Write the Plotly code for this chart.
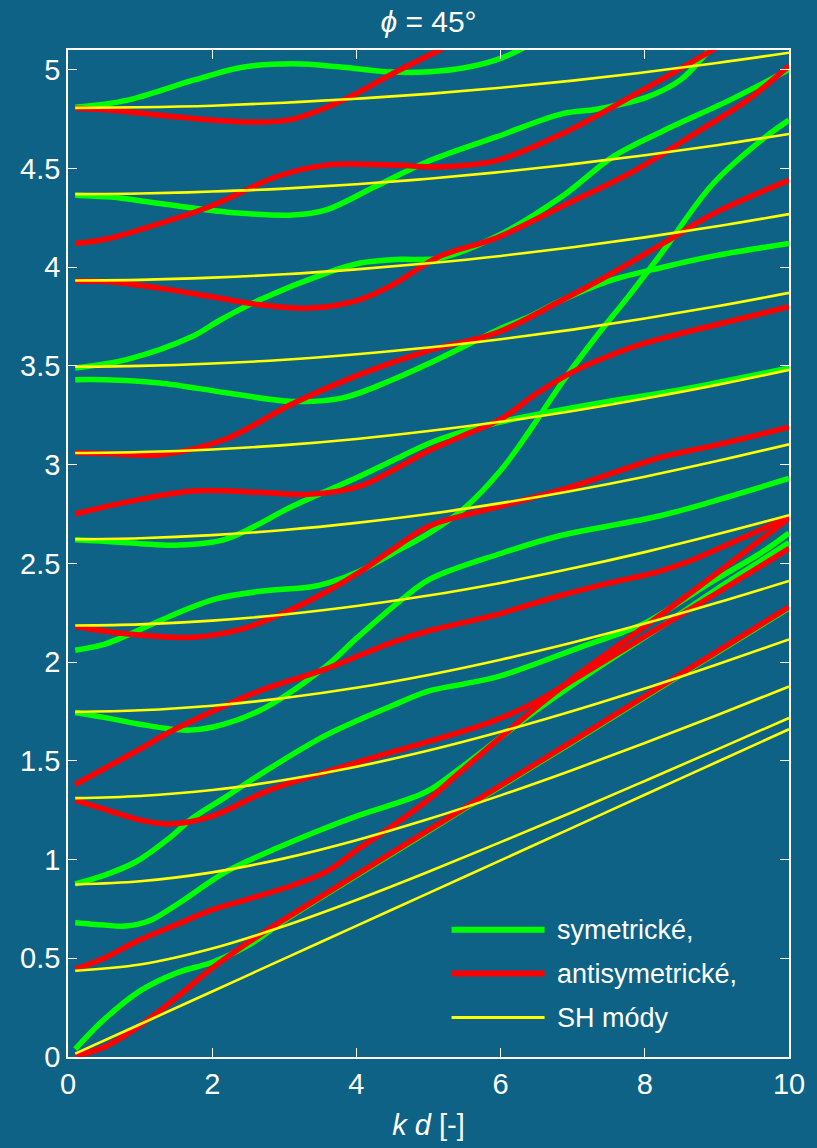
import plotly.graph_objects as go

# ---------------- data ----------------
# SH modes (yellow), sampled at these k d values
KD_SH = [0.1, 1, 2, 3, 4, 5, 6, 7, 8, 9, 10]
SH0 = [0.017, 0.166, 0.332, 0.498, 0.664, 0.830, 0.996, 1.162, 1.328, 1.494, 1.660]
SH1 = [0.437, 0.468, 0.549, 0.663, 0.795, 0.938, 1.088, 1.241, 1.398, 1.557, 1.717]
SH2 = [0.874, 0.890, 0.935, 1.006, 1.098, 1.205, 1.325, 1.454, 1.590, 1.731, 1.876]
SH3 = [1.311, 1.322, 1.352, 1.403, 1.470, 1.552, 1.647, 1.752, 1.866, 1.988, 2.115]
SH4 = [1.748, 1.756, 1.779, 1.818, 1.870, 1.935, 2.012, 2.099, 2.195, 2.300, 2.411]
SH5 = [2.185, 2.191, 2.210, 2.241, 2.284, 2.337, 2.401, 2.475, 2.557, 2.647, 2.744]
SH6 = [2.622, 2.627, 2.643, 2.669, 2.705, 2.750, 2.805, 2.868, 2.939, 3.018, 3.103]
SH7 = [3.059, 3.064, 3.077, 3.099, 3.130, 3.170, 3.217, 3.272, 3.335, 3.404, 3.480]
SH8 = [3.496, 3.500, 3.512, 3.531, 3.559, 3.593, 3.635, 3.684, 3.740, 3.802, 3.870]
SH9 = [3.933, 3.936, 3.947, 3.964, 3.989, 4.020, 4.057, 4.101, 4.151, 4.207, 4.269]
SH10 = [4.370, 4.373, 4.383, 4.398, 4.420, 4.448, 4.482, 4.522, 4.567, 4.618, 4.675]
SH11 = [4.807, 4.810, 4.818, 4.833, 4.853, 4.878, 4.909, 4.945, 4.987, 5.034, 5.086]

# symmetric modes (green)
S0_X = [0.1, 0.5, 1, 1.5, 2, 2.5, 3, 4, 5, 6, 7, 8, 9, 10]
S0_Y = [0.04, 0.19, 0.335, 0.425, 0.48, 0.565, 0.69, 0.918, 1.144, 1.37, 1.595, 1.822, 2.048, 2.274]
S1_X = [0.1, 0.5, 0.8, 1.13, 1.5, 2.2, 2.89, 3.5, 4.04, 4.97, 5.43, 6.4, 7.33, 8.25, 9.0, 9.64, 10]
S1_Y = [0.68, 0.668, 0.663, 0.69, 0.77, 0.94, 1.057, 1.15, 1.225, 1.343, 1.46, 1.73, 1.966, 2.185, 2.37, 2.52, 2.606]
S2_X = [0.1, 0.5, 0.95, 1.41, 1.73, 2.2, 2.66, 3.58, 4.5, 5.02, 5.5, 6.0, 7.1, 7.93, 8.34, 8.9, 9.64, 10]
S2_Y = [0.877, 0.92, 0.99, 1.11, 1.21, 1.32, 1.43, 1.63, 1.78, 1.855, 1.89, 1.93, 2.075, 2.185, 2.27, 2.40, 2.56, 2.654]
S3_X = [0.1, 0.5, 1.0, 1.64, 2.0, 2.66, 3.58, 4.0, 4.64, 5.02, 6.0, 6.82, 8.2, 9.0, 10]
S3_Y = [1.745, 1.72, 1.685, 1.655, 1.67, 1.755, 1.98, 2.12, 2.32, 2.42, 2.55, 2.64, 2.74, 2.82, 2.93]
S4_X = [0.1, 0.5, 0.81, 1.4, 2.05, 2.7, 3.35, 3.6, 4.04, 4.5, 5.02, 5.5, 6.0, 6.4, 6.86, 7.33, 7.79, 8.25, 8.94, 9.64, 10]
S4_Y = [2.06, 2.09, 2.134, 2.23, 2.32, 2.36, 2.38, 2.40, 2.46, 2.55, 2.656, 2.78, 2.97, 3.17, 3.42, 3.65, 3.86, 4.08, 4.42, 4.65, 4.745]
S5_X = [0.1, 0.5, 1.0, 1.5, 2.19, 3.12, 4.04, 4.5, 5.02, 5.5, 6.17, 7.33, 8.5, 10]
S5_Y = [2.62, 2.612, 2.60, 2.592, 2.623, 2.79, 2.94, 3.02, 3.11, 3.17, 3.23, 3.31, 3.38, 3.49]
S6_X = [0.1, 0.5, 1.27, 2.19, 3.12, 3.81, 4.5, 5.02, 5.5, 6.0, 6.4, 6.86, 7.5, 8.25, 9.0, 10]
S6_Y = [3.43, 3.43, 3.414, 3.364, 3.32, 3.338, 3.43, 3.515, 3.60, 3.69, 3.75, 3.835, 3.93, 4.0, 4.06, 4.12]
S7_X = [0.1, 0.81, 1.73, 2.1, 2.66, 3.58, 4.04, 4.6, 5.15, 5.94, 6.86, 7.56, 8.25, 9.17, 10]
S7_Y = [3.49, 3.532, 3.65, 3.73, 3.835, 3.97, 4.02, 4.04, 4.045, 4.155, 4.36, 4.56, 4.69, 4.845, 5.0]
S8_X = [0.1, 0.6, 1.27, 2.19, 3.12, 3.58, 4.27, 5.02, 5.94, 6.86, 7.33, 8.02, 8.5, 8.9, 9.2]
S8_Y = [4.365, 4.355, 4.323, 4.28, 4.264, 4.29, 4.41, 4.54, 4.66, 4.778, 4.80, 4.86, 4.95, 5.1, 5.2]
S9_X = [0.1, 0.81, 1.73, 2.42, 3.12, 3.81, 4.5, 5.02, 5.5, 5.94, 6.26, 6.6]
S9_Y = [4.81, 4.845, 4.946, 5.013, 5.03, 5.013, 4.988, 4.99, 5.01, 5.05, 5.1, 5.17]

# antisymmetric modes (red)
A0_X = [0.1, 0.5, 1, 1.5, 2, 2.5, 3, 4, 5, 6, 7, 8, 9, 10]
A0_Y = [0.005, 0.05, 0.16, 0.30, 0.45, 0.58, 0.697, 0.923, 1.149, 1.375, 1.60, 1.827, 2.053, 2.279]
A1_X = [0.1, 0.5, 0.95, 1.5, 2.0, 2.5, 3.12, 3.59, 4.04, 4.5, 5.02, 5.43, 6.36, 6.82, 7.1, 8.0, 9.0, 10]
A1_Y = [0.445, 0.5, 0.585, 0.67, 0.745, 0.80, 0.87, 0.94, 1.057, 1.17, 1.31, 1.44, 1.73, 1.865, 1.945, 2.18, 2.45, 2.73]
A2_X = [0.1, 0.5, 1.0, 1.41, 2.0, 2.75, 3.58, 4.5, 5.02, 5.89, 6.5, 7.1, 8.0, 9.0, 10]
A2_Y = [1.30, 1.255, 1.20, 1.18, 1.22, 1.345, 1.444, 1.545, 1.60, 1.70, 1.80, 1.93, 2.13, 2.35, 2.575]
A3_X = [0.1, 0.5, 1.0, 1.41, 2.0, 2.66, 3.58, 4.5, 5.02, 5.89, 6.82, 7.5, 8.2, 8.71, 9.3, 10]
A3_Y = [1.38, 1.46, 1.56, 1.646, 1.75, 1.855, 1.966, 2.10, 2.16, 2.235, 2.336, 2.40, 2.46, 2.525, 2.62, 2.735]
A4_X = [0.1, 0.81, 1.73, 2.42, 3.12, 3.6, 4.04, 4.5, 5.02, 6.0, 7.0, 8.25, 9.0, 10]
A4_Y = [2.18, 2.143, 2.126, 2.168, 2.27, 2.36, 2.455, 2.57, 2.69, 2.79, 2.89, 3.04, 3.10, 3.19]
A5_X = [0.1, 0.81, 1.73, 2.66, 3.35, 4.04, 4.5, 5.0, 5.5, 6.0, 6.5, 7.0, 7.5, 8.0, 9.0, 10]
A5_Y = [2.75, 2.81, 2.867, 2.86, 2.85, 2.89, 2.97, 3.07, 3.15, 3.23, 3.36, 3.47, 3.55, 3.615, 3.71, 3.80]
A6_X = [0.1, 0.6, 1.27, 2.19, 3.12, 4.04, 5.02, 5.94, 6.86, 7.5, 8.25, 9.0, 10]
A6_Y = [3.06, 3.055, 3.05, 3.13, 3.31, 3.456, 3.58, 3.667, 3.835, 3.96, 4.12, 4.28, 4.44]
A7_X = [0.1, 0.6, 1.27, 2.0, 2.66, 3.35, 4.04, 4.5, 5.15, 5.94, 6.86, 7.79, 8.71, 9.4, 10]
A7_Y = [3.93, 3.925, 3.894, 3.85, 3.81, 3.793, 3.835, 3.91, 4.054, 4.148, 4.31, 4.475, 4.68, 4.84, 5.02]
A8_X = [0.1, 0.5, 1.04, 1.96, 2.89, 3.58, 4.5, 5.15, 5.94, 6.86, 7.79, 8.94, 9.3]
A8_Y = [4.12, 4.14, 4.195, 4.306, 4.458, 4.517, 4.517, 4.508, 4.54, 4.677, 4.86, 5.1, 5.18]
A9_X = [0.1, 0.6, 1.27, 2.0, 2.66, 3.12, 3.81, 4.5, 5.15, 5.5]
A9_Y = [4.805, 4.795, 4.77, 4.745, 4.735, 4.75, 4.845, 4.98, 5.1, 5.17]

X_TICKS = [0, 2, 4, 6, 8, 10]
Y_TICKS = [0, 0.5, 1, 1.5, 2, 2.5, 3, 3.5, 4, 4.5, 5]
Y_TICK_TEXT = ["0", "0.5", "1", "1.5", "2", "2.5", "3", "3.5", "4", "4.5", "5"]
LEGEND_LABELS = ["symetrické,", "antisymetrické,", "SH módy"]

# ---------------- styling ----------------
BG = "#0d6285"
GREEN = "#00ff00"
RED = "#ff0000"
YELLOW = "#ffff00"
FONT = "Liberation Sans, Arial, sans-serif"
FS_TICK = 29
FS_LEG = 27

sym = [(S0_X, S0_Y), (S1_X, S1_Y), (S2_X, S2_Y), (S3_X, S3_Y), (S4_X, S4_Y),
       (S5_X, S5_Y), (S6_X, S6_Y), (S7_X, S7_Y), (S8_X, S8_Y), (S9_X, S9_Y)]
anti = [(A0_X, A0_Y), (A1_X, A1_Y), (A2_X, A2_Y), (A3_X, A3_Y), (A4_X, A4_Y),
        (A5_X, A5_Y), (A6_X, A6_Y), (A7_X, A7_Y), (A8_X, A8_Y), (A9_X, A9_Y)]
sh = [SH0, SH1, SH2, SH3, SH4, SH5, SH6, SH7, SH8, SH9, SH10, SH11]

fig = go.Figure()
for xs, ys in sym:
    fig.add_trace(go.Scatter(x=xs, y=ys, mode="lines", name=LEGEND_LABELS[0],
                             line=dict(color=GREEN, width=5.5, shape="spline"),
                             showlegend=False, hoverinfo="skip"))
for xs, ys in anti:
    fig.add_trace(go.Scatter(x=xs, y=ys, mode="lines", name=LEGEND_LABELS[1],
                             line=dict(color=RED, width=5.5, shape="spline"),
                             showlegend=False, hoverinfo="skip"))
for ys in sh:
    fig.add_trace(go.Scatter(x=KD_SH, y=ys, mode="lines", name=LEGEND_LABELS[2],
                             line=dict(color=YELLOW, width=2.6, shape="spline"),
                             showlegend=False, hoverinfo="skip"))

# legend drawn with long sample lines like the original
leg_rows = [0.1264, 0.0828, 0.0392]
leg_cols = [GREEN, RED, YELLOW]
leg_w = [6, 6, 3]
for yy, c, w, lab in zip(leg_rows, leg_cols, leg_w, LEGEND_LABELS):
    fig.add_shape(type="line", xref="paper", yref="paper", x0=0.532, x1=0.661,
                  y0=yy, y1=yy, line=dict(color=c, width=w))
    fig.add_annotation(xref="paper", yref="paper", x=0.675, y=yy, text=lab,
                       showarrow=False, xanchor="left", yanchor="middle",
                       font=dict(family=FONT, size=FS_LEG, color="white"))

axis_common = dict(showline=True, linecolor="white", linewidth=1.5, mirror="ticks",
                   ticks="inside", ticklen=9, tickwidth=1.3, tickcolor="white",
                   showgrid=False, zeroline=False,
                   tickfont=dict(family=FONT, size=FS_TICK, color="white"))

fig.update_layout(
    width=817, height=1148,
    margin=dict(l=68, r=28, t=50, b=89),
    paper_bgcolor=BG, plot_bgcolor=BG,
    showlegend=False,
    title=dict(text="<i>ϕ</i> = 45°", x=0.5, xref="paper", y=1 - 21 / 1148,
               yref="container", xanchor="center", yanchor="middle",
               font=dict(family=FONT, size=30, color="white")),
    xaxis=dict(range=[0, 10], tickvals=X_TICKS, ticktext=[str(t) for t in X_TICKS],
               title=dict(text="<i>k d</i> [-]", standoff=16,
                          font=dict(family=FONT, size=FS_TICK, color="white")),
               **axis_common),
    yaxis=dict(range=[0, 5.1], tickvals=Y_TICKS, ticktext=Y_TICK_TEXT, **axis_common),
)

fig.write_html("out.html")
